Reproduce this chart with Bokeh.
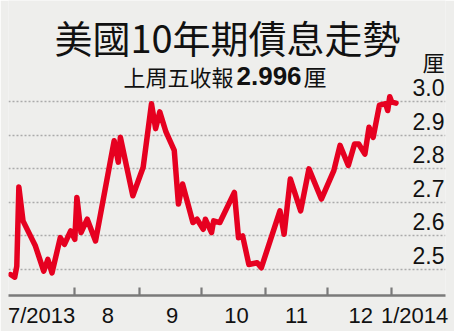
import pandas as pd
from datetime import datetime, timedelta
from bokeh.plotting import figure
from bokeh.models import Label, FixedTicker, Range1d
from bokeh.embed import file_html
from bokeh.resources import INLINE

# ---- data ----
dates = ["2013-07-01", "2013-07-03", "2013-07-04", "2013-07-05", "2013-07-07", "2013-07-11",
         "2013-07-13", "2013-07-17", "2013-07-19", "2013-07-21", "2013-07-25", "2013-07-27",
         "2013-07-30", "2013-08-01", "2013-08-02", "2013-08-04", "2013-08-07", "2013-08-11",
         "2013-08-20", "2013-08-22", "2013-08-23", "2013-08-29", "2013-09-03", "2013-09-07",
         "2013-09-09", "2013-09-11", "2013-09-14", "2013-09-18", "2013-09-20", "2013-09-22",
         "2013-09-27", "2013-09-29", "2013-10-02", "2013-10-03", "2013-10-06", "2013-10-07",
         "2013-10-10", "2013-10-17", "2013-10-19", "2013-10-21", "2013-10-24", "2013-10-28",
         "2013-10-30", "2013-11-08", "2013-11-10", "2013-11-13", "2013-11-18", "2013-11-22",
         "2013-11-28", "2013-12-04", "2013-12-07", "2013-12-11", "2013-12-14", "2013-12-16",
         "2013-12-19", "2013-12-21", "2013-12-23", "2013-12-26", "2013-12-29", "2013-12-30",
         "2013-12-31", "2014-01-01", "2014-01-03"]
yields = [2.485, 2.477, 2.51, 2.746, 2.645, 2.595,
          2.57, 2.495, 2.53, 2.49, 2.595, 2.575,
          2.615, 2.59, 2.715, 2.61, 2.65, 2.585,
          2.884, 2.82, 2.894, 2.72, 2.805, 2.994,
          2.92, 2.97, 2.91, 2.855, 2.695, 2.755,
          2.64, 2.65, 2.62, 2.65, 2.61, 2.645,
          2.64, 2.73, 2.595, 2.6, 2.515, 2.52,
          2.505, 2.675, 2.605, 2.77, 2.675, 2.8,
          2.71, 2.795, 2.87, 2.81, 2.874, 2.874,
          2.844, 2.924, 2.894, 2.99, 2.994, 2.974,
          3.015, 2.999, 2.996]

month_starts = ["2013-08-01", "2013-09-01", "2013-10-01", "2013-11-01", "2013-12-01", "2014-01-01"]
x_label_dates = ["2013-07-16", "2013-08-17", "2013-09-17", "2013-10-18", "2013-11-16", "2013-12-17", "2014-01-12"]
x_labels = ["7/2013", "8", "9", "10", "11", "12", "1/2014"]
y_ticks = [2.5, 2.6, 2.7, 2.8, 2.9, 3.0]
y_tick_labels = ["2.5", "2.6", "2.7", "2.8", "2.9", "3.0"]

title_text = "美國10年期債息走勢"
sub_pre = "上周五收報"
sub_val = "2.996"
unit = "厘"

# ---- helpers ----
def ms(s):
    return float(pd.Timestamp(s).value // 10**6)

x_dt = pd.to_datetime(dates)

BG = "#eeeeec"
RED = "#e60020"
GREY = "#7a7a7a"

x_start = datetime(2013, 6, 30)
x_end = x_start + timedelta(days=210.9)

p = figure(width=454, height=331, output_backend="svg", toolbar_location=None,
           x_axis_type="datetime", y_axis_location=None,
           x_range=Range1d(x_start, x_end), y_range=Range1d(2.4225, 3.302),
           min_border_left=8, min_border_right=9, min_border_top=0, min_border_bottom=36)
p.background_fill_color = BG
p.border_fill_color = BG
p.outline_line_color = None

# grid
p.xgrid.visible = False
p.ygrid.ticker = FixedTicker(ticks=y_ticks)
p.ygrid.grid_line_color = "#ababab"
p.ygrid.grid_line_width = 1.6
p.ygrid.grid_line_dash = "2 2"

# x axis
ax = p.xaxis[0]
ax.ticker = FixedTicker(ticks=[ms(d) for d in x_label_dates], minor_ticks=[ms(d) for d in month_starts])
ax.major_label_overrides = {ms(d): t for d, t in zip(x_label_dates, x_labels)}
ax.axis_line_color = GREY
ax.axis_line_width = 2.5
ax.major_tick_line_color = None
ax.major_tick_in = 0
ax.major_tick_out = 0
ax.minor_tick_line_color = GREY
ax.minor_tick_line_width = 2.2
ax.minor_tick_in = 8
ax.minor_tick_out = 0
ax.major_label_text_font = "Liberation Sans"
ax.major_label_text_font_size = "22px"
ax.major_label_text_color = "#111111"
ax.major_label_standoff = 7

# line
p.line(x_dt, yields, line_color=RED, line_width=5.5, line_join="round", line_cap="round")

# y tick labels (inside plot, right side)
for v, t in zip(y_ticks, y_tick_labels):
    p.add_layout(Label(x=436, x_units="screen", y=v, y_units="data", text=t,
                       text_align="right", text_baseline="alphabetic", y_offset=14,
                       text_font="Liberation Sans", text_font_size="23px", text_color="#111111"))

# unit
p.add_layout(Label(x=436, x_units="screen", y=235, y_units="screen", text=unit,
                   text_align="right", text_baseline="alphabetic",
                   text_font="Noto Sans CJK TC", text_font_size="22px", text_color="#111111"))

# title
p.add_layout(Label(x=219, x_units="screen", y=259, y_units="screen", text=title_text,
                   text_align="center", text_baseline="alphabetic",
                   text_font="Noto Sans CJK TC", text_font_size="38px", text_color="#111111"))

# subtitle pieces
p.add_layout(Label(x=115, x_units="screen", y=220, y_units="screen", text=sub_pre,
                   text_align="left", text_baseline="alphabetic",
                   text_font="Noto Sans CJK TC", text_font_size="22px", text_color="#111111"))
p.add_layout(Label(x=228, x_units="screen", y=220, y_units="screen", text=sub_val,
                   text_align="left", text_baseline="alphabetic", text_font_style="bold",
                   text_font="Liberation Sans", text_font_size="26px", text_color="#111111"))
p.add_layout(Label(x=295, x_units="screen", y=220, y_units="screen", text=unit,
                   text_align="left", text_baseline="alphabetic",
                   text_font="Noto Sans CJK TC", text_font_size="23px", text_color="#111111"))

open("out.html", "w").write(file_html(p, INLINE))
